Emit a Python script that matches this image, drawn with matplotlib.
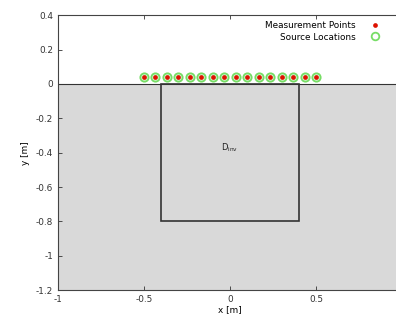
import numpy as np
import matplotlib
matplotlib.use('Agg')
import matplotlib.pyplot as plt
from matplotlib.patches import Rectangle

# datos
x_puntos = np.linspace(-0.5, 0.5, 16)
y_puntos = [0.04] * 16
dominio = [-0.4, 0.4, -0.8, 0.0]  # xmin, xmax, ymin, ymax
xticks = [-1, -0.5, 0, 0.5]
yticks = [0.4, 0.2, 0, -0.2, -0.4, -0.6, -0.8, -1, -1.2]

fig = plt.figure(figsize=(3.96, 3.22), dpi=100)
ax = fig.add_axes([0.146, 0.099, 0.87, 0.854])

# fondo gris (suelo)
ax.add_patch(Rectangle((-1, -1.2), 2.0, 1.2, facecolor='#d9d9d9', edgecolor='none', zorder=0))
ax.axhline(0, color='#333333', lw=0.8, zorder=1)

# dominio de inversion
ax.add_patch(Rectangle((dominio[0], dominio[2]), dominio[1]-dominio[0], dominio[3]-dominio[2],
                       facecolor='none', edgecolor='#333333', lw=1.2, zorder=2))
ax.text(0, -0.37, r'D$_{\rm inv}$', fontsize=6, ha='center', va='center', color='#222222')

ax.plot(x_puntos, y_puntos, 'o', ms=6, mfc='#d8f5d0', mec='#77dd66', mew=1.3)
ax.plot(x_puntos, y_puntos, 'o', ms=3.4, color='#dd1100', mec='none')

# leyenda manual para ordenar como en la figura
h1, = ax.plot([], [], 'o', ms=3.4, color='#dd1100', mec='none')
h2, = ax.plot([], [], 'o', ms=5.5, mfc='none', mec='#77dd66', mew=1.3)
ax.legend([h1, h2], ['Measurement Points', 'Source Locations'], loc='upper right',
          bbox_to_anchor=(0.965, 1.0), frameon=False, fontsize=6.4, markerfirst=False,
          handletextpad=1.2, labelspacing=0.25, borderaxespad=0.3)

ax.set_xlim(-1, 1)
ax.set_ylim(-1.2, 0.4)
ax.set_xticks(xticks)
ax.set_xticklabels(['-1', '-0.5', '0', '0.5'])
ax.set_yticks(yticks)
ax.set_yticklabels(['0.4', '0.2', '0', '-0.2', '-0.4', '-0.6', '-0.8', '-1', '-1.2'])
ax.tick_params(direction='in', length=3, width=0.6, labelsize=6.4, top=True, colors='#333333')
ax.set_xlabel('x [m]', fontsize=6.4, labelpad=1)
ax.set_ylabel('y [m]', fontsize=6.4, labelpad=4)
for s in ax.spines.values():
    s.set_color('#444444')
    s.set_linewidth(0.8)

fig.savefig('out.png', dpi=100)
